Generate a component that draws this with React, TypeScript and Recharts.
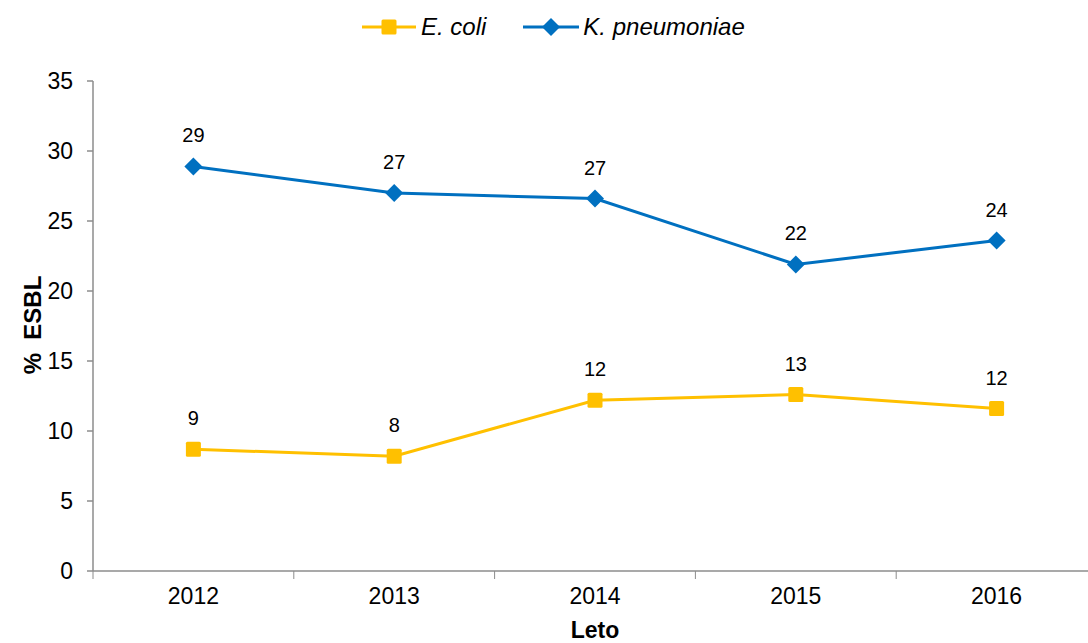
import React from 'react';
import { LineChart, Line, XAxis, YAxis, Legend, LabelList, Label } from 'recharts';

const years = ['2012', '2013', '2014', '2015', '2016'];
const eColi = [8.7, 8.2, 12.2, 12.6, 11.6];
const kPneumoniae = [28.9, 27.0, 26.6, 21.9, 23.6];
const yTicks = [0, 5, 10, 15, 20, 25, 30, 35];

const data = years.map((y, i) => ({ year: y, ecoli: eColi[i], kpn: kPneumoniae[i] }));

const YELLOW = '#FFC000';
const BLUE = '#0070C0';
const AXIS = '#8c8c8c';
const FONT = '"Liberation Sans", Arial, sans-serif';

const CHART_W = 1100;
const MARGIN = { top: 81, right: 3, bottom: 0, left: 0 };
const Y_W = 93;
const PLOT_W = CHART_W - MARGIN.left - MARGIN.right - Y_W;
const HALF = PLOT_W / years.length / 2;
const TICK_SIZE = 8;
const TICK_MARGIN = 9;

const SquareDot = (props: any) => {
  const { cx, cy } = props;
  if (cx == null || cy == null) return null;
  return <rect x={cx - 7.5} y={cy - 7.5} width={15} height={15} rx={1.5} fill={YELLOW} />;
};

const DiamondDot = (props: any) => {
  const { cx, cy } = props;
  if (cx == null || cy == null) return null;
  const r = 9;
  return <polygon points={`${cx},${cy - r} ${cx + r},${cy} ${cx},${cy + r} ${cx - r},${cy}`} fill={BLUE} />;
};

const XTick = (props: any) => {
  const { x, y, payload, index } = props;
  const axisY = y - TICK_SIZE - TICK_MARGIN;
  return (
    <g>
      <line x1={x - HALF} y1={axisY} x2={x - HALF} y2={axisY + TICK_SIZE} stroke={AXIS} />
      {index === years.length - 1 && (
        <line x1={x + HALF} y1={axisY} x2={x + HALF} y2={axisY + TICK_SIZE} stroke={AXIS} />
      )}
      <text x={x} y={y} dy="0.71em" textAnchor="middle" fill="#000" fontSize={23} fontFamily={FONT}>{payload.value}</text>
    </g>
  );
};

const LegendContent = () => (
  <div style={{ display: 'flex', justifyContent: 'flex-start', alignItems: 'center', paddingLeft: 362, fontFamily: FONT, fontSize: 24, fontStyle: 'italic', color: '#000', lineHeight: '24px' }}>
    <svg width={54} height={20} style={{ marginRight: 5 }}>
      <line x1={0} y1={10} x2={54} y2={10} stroke={YELLOW} strokeWidth={3} />
      <rect x={19.5} y={2.5} width={15} height={15} rx={1.5} fill={YELLOW} />
    </svg>
    <span style={{ marginRight: 37 }}>E. coli</span>
    <svg width={56} height={20} style={{ marginRight: 4 }}>
      <line x1={0} y1={10} x2={56} y2={10} stroke={BLUE} strokeWidth={3} />
      <polygon points="28,1 37,10 28,19 19,10" fill={BLUE} />
    </svg>
    <span>K. pneumoniae</span>
  </div>
);

const fmt = (v: any) => Math.round(Number(v));

export default function App() {
  return (
    <div style={{ position: 'absolute', left: 0, top: 0, width: 1088, height: 643, overflow: 'hidden', background: '#fff' }}>
      <LineChart width={CHART_W} height={643} data={data} margin={MARGIN}>
        <Legend verticalAlign="middle" align="center" layout="horizontal" content={<LegendContent />}
          wrapperStyle={{ top: 15, left: 0, width: 1088, height: 24 }} />
        <XAxis dataKey="year" height={72} stroke={AXIS} strokeWidth={1.5} tickSize={TICK_SIZE} tickMargin={TICK_MARGIN}
          padding={{ left: HALF, right: HALF }} tickLine={false} tick={<XTick />} interval={0}>
          <Label content={(p: any) => {
            const vb = p.viewBox;
            return <text x={vb.x + vb.width / 2} y={638} textAnchor="middle" fontFamily={FONT} fontWeight="bold" fontSize={23} fill="#000">Leto</text>;
          }} />
        </XAxis>
        <YAxis width={Y_W} domain={[0, 35]} ticks={yTicks} interval={0} stroke={AXIS} strokeWidth={1.5} tickSize={6} tickMargin={14}
          tick={{ fill: '#000', fontSize: 23, fontFamily: FONT }} tickLine={{ stroke: AXIS }}>
          <Label content={() => {
            const cy = 325;
            const cx = 41;
            return <text x={cx} y={cy} transform={`rotate(-90, ${cx}, ${cy})`} textAnchor="middle" fontFamily={FONT} fontWeight="bold" fontSize={24} fill="#000">{'%\u00A0 ESBL'}</text>;
          }} />
        </YAxis>
        <Line dataKey="ecoli" name="E. coli" stroke={YELLOW} strokeWidth={3} dot={<SquareDot />} activeDot={false} isAnimationActive={false}>
          <LabelList dataKey="ecoli" position="top" offset={24} formatter={fmt} fill="#000" fontSize={20} fontFamily={FONT} />
        </Line>
        <Line dataKey="kpn" name="K. pneumoniae" stroke={BLUE} strokeWidth={3} dot={<DiamondDot />} activeDot={false} isAnimationActive={false}>
          <LabelList dataKey="kpn" position="top" offset={24} formatter={fmt} fill="#000" fontSize={20} fontFamily={FONT} />
        </Line>
      </LineChart>
    </div>
  );
}
